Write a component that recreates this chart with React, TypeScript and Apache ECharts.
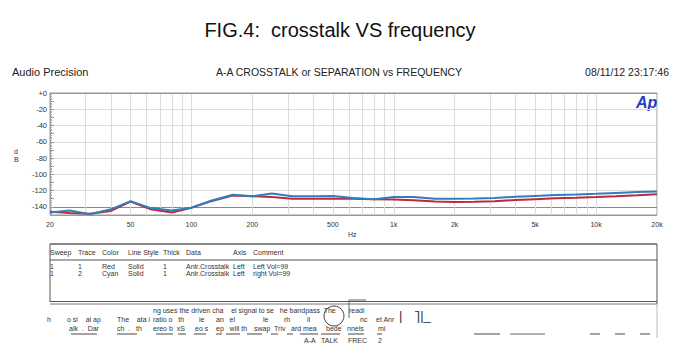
import React, { useEffect, useRef } from "react";
import * as echarts from "echarts";

const freqs = [20, 25, 31.5, 40, 50, 63, 80, 100, 125, 160, 200, 250, 315, 400, 500, 630, 800, 1000, 1250, 1600, 2000, 2500, 3150, 4000, 5000, 6300, 8000, 10000, 12500, 16000, 20000];
const redValues = [-146, -147.5, -148.5, -145, -133.5, -143, -147, -141, -133, -126, -127, -128, -130, -130, -130, -130, -130.5, -131, -132, -133.5, -134, -133.8, -133, -131.5, -130.5, -129.5, -128.8, -128, -127, -125.8, -124.5];
const cyanValues = [-147, -144.5, -149, -143, -133, -141.5, -144.5, -141, -132.5, -125, -127, -123.5, -127, -127, -126.5, -129, -130.5, -128, -128, -130, -130, -129.8, -129, -127.5, -126.5, -125.5, -124.8, -124, -122.8, -121.8, -121];
const xTickLabels = [20, 50, 100, 200, 500, 1000, 2000, 5000, 10000, 20000];
const xGridFreqs = [20, 30, 40, 50, 60, 70, 80, 90, 100, 200, 300, 400, 500, 600, 700, 800, 900, 1000, 2000, 3000, 4000, 5000, 6000, 7000, 8000, 9000, 10000, 20000];
const tableHeaders = ["Sweep", "Trace", "Color", "Line Style", "Thick", "Data", "Axis", "Comment"];
const tableRows = [
  ["1", "1", "Red", "Solid", "1", "Anlr.Crosstalk", "Left", "Left Vol=99"],
  ["1", "2", "Cyan", "Solid", "1", "Anlr.Crosstalk", "Left", "right Vol=99"],
];
const noteFragments: [string, number, number][] = [
  ["h", 47, 320], ["o si    al ap", 67, 320], ["alk  .  Dar", 69, 329],
  ["The    ata i", 117, 320], ["ch  .   th", 117, 329],
  ["ng uses the driven cha    el signal to se   he bandpass  The", 153, 311],
  ["readi", 349, 311],
  ["ratio o   th", 153, 320], ["ereo b  xS", 153, 329], ["ie", 199, 320], ["eo s", 195, 329],
  ["an   el", 216, 320], ["ep   will th", 216, 329], ["le", 263, 320], ["swap  Triv", 254, 329],
  ["rh", 284, 320], ["il", 307, 320], ["ard mea", 291, 329], ["bede", 326, 329],
  ["nc", 360, 320], ["nnels", 347, 329], ["et Anr", 376, 320], ["mi", 378, 329],
  ["A-A   TALK", 304, 341], ["FREC", 348, 341], ["2", 378, 341],
];
const noteDashes: [number, number][] = [
  [71, 97], [117, 137], [156, 173], [178, 186], [194, 206], [216, 222], [226, 240],
  [247, 262], [271, 278], [287, 293], [300, 318], [321, 340], [348, 364], [377, 382],
  [474, 500], [510, 545], [590, 600], [615, 625], [640, 650],
];

const colCols = [50, 78, 102, 128, 163, 186, 233, 253];

export default function App() {
  const ref = useRef<HTMLDivElement>(null);
  useEffect(() => {
    if (!ref.current) return;
    const chart = echarts.init(ref.current, null, { renderer: "svg" });
    const toXY = (vals: number[]) => freqs.map((f, i) => [Math.log10(f), vals[i]]);
    const yTicks: number[] = [];
    for (let v = -150; v <= 0; v += 10) yTicks.push(v);
    const splitColors = yTicks.map((v) =>
      v === -150 || v === 0 ? "#999" : v === -140 ? "#8a8a8a" : v % 20 === 0 ? "#dcdcdc" : "rgba(0,0,0,0)"
    );
    const fmtF = (v: number) => {
      const f = Math.round(Math.pow(10, v));
      return f >= 1000 ? f / 1000 + "k" : String(f);
    };
    const font = "Liberation Sans, Arial, sans-serif";
    const graphics: any[] = [
      { type: "text", left: "center", top: 20, style: { text: "FIG.4:  crosstalk VS frequency", font: `20px ${font}`, fill: "#111" } },
      { type: "text", x: 12, y: 66, style: { text: "Audio Precision", font: `11px ${font}`, fill: "#222" } },
      { type: "text", x: 339, y: 66, style: { text: "A-A CROSSTALK or SEPARATION vs FREQUENCY", font: `10.5px ${font}`, fill: "#222", textAlign: "center" } },
      { type: "text", x: 669, y: 66, style: { text: "08/11/12 23:17:46", font: `10.5px ${font}`, fill: "#222", textAlign: "right" } },
      { type: "text", x: 636, y: 94, style: { text: "Ap", font: `italic bold 16px ${font}`, fill: "#1f3fc4" } },
      { type: "text", x: 14, y: 148, style: { text: "d", font: `7px ${font}`, fill: "#333" } },
      { type: "text", x: 14, y: 156, style: { text: "B", font: `7px ${font}`, fill: "#333" } },
      { type: "text", x: 348, y: 231, style: { text: "Hz", font: `7px ${font}`, fill: "#333" } },
      { type: "line", shape: { x1: 50, y1: 244, x2: 657, y2: 244 }, style: { stroke: "#888", lineWidth: 2 } },
      { type: "line", shape: { x1: 50, y1: 260, x2: 657, y2: 260 }, style: { stroke: "#555", lineWidth: 1 } },
      { type: "line", shape: { x1: 50, y1: 301.5, x2: 657, y2: 301.5 }, style: { stroke: "#555", lineWidth: 1 } },
      { type: "line", shape: { x1: 50, y1: 304, x2: 657, y2: 304 }, style: { stroke: "#777", lineWidth: 1 } },
      { type: "line", shape: { x1: 50, y1: 244, x2: 50, y2: 302 }, style: { stroke: "#555", lineWidth: 1 } },
      { type: "line", shape: { x1: 657, y1: 244, x2: 657, y2: 304 }, style: { stroke: "#555", lineWidth: 1 } },
      { type: "line", shape: { x1: 657, y1: 304, x2: 657, y2: 338 }, style: { stroke: "#bbb", lineWidth: 1 } },
      { type: "line", shape: { x1: 349, y1: 300, x2: 366, y2: 300 }, style: { stroke: "#666", lineWidth: 1 } },
      { type: "line", shape: { x1: 349, y1: 300, x2: 349, y2: 318 }, style: { stroke: "#666", lineWidth: 1 } },
      { type: "circle", shape: { cx: 334, cy: 316, r: 10 }, style: { fill: "none", stroke: "#444", lineWidth: 1 } },
      { type: "text", x: 399, y: 309, style: { text: "|    ̄||_", font: `13px ${font}`, fill: "#333" } },
    ];
    tableHeaders.forEach((h, i) =>
      graphics.push({ type: "text", x: colCols[i], y: 249, style: { text: h, font: `7px ${font}`, fill: "#333" } })
    );
    tableRows.forEach((row, r) =>
      row.forEach((c, i) =>
        graphics.push({ type: "text", x: colCols[i], y: 263 + r * 7, style: { text: c, font: `7px ${font}`, fill: "#333" } })
      )
    );
    noteFragments.forEach(([t, x, y]) =>
      graphics.push({ type: "text", x, y: y - 4, style: { text: t, font: `7px ${font}`, fill: "#333" } })
    );
    noteDashes.forEach(([a, b]) =>
      graphics.push({ type: "line", shape: { x1: a, y1: 334, x2: b, y2: 334 }, style: { stroke: "#666", lineWidth: 1.2 } })
    );

    chart.setOption({
      animation: false,
      backgroundColor: "#fff",
      grid: { left: 50, right: 23, top: 93, bottom: 145, show: true, borderColor: "#999", borderWidth: 1 },
      xAxis: {
        type: "value",
        min: Math.log10(20),
        max: Math.log10(20000),
        axisLine: { show: true, lineStyle: { color: "#999" } },
        axisTick: { show: false, customValues: xGridFreqs.map((f) => Math.log10(f)) },
        axisLabel: {
          customValues: xTickLabels.map((f) => Math.log10(f)),
          formatter: fmtF,
          fontSize: 7,
          color: "#333",
          margin: 6,
          fontFamily: font,
        },
        splitLine: { show: true, lineStyle: { color: "#dcdcdc", width: 1 } },
      },
      yAxis: {
        type: "value",
        min: -150,
        max: 0,
        interval: 10,
        axisLine: { show: true, lineStyle: { color: "#999" } },
        axisTick: { show: true, inside: true, length: 4, lineStyle: { color: "#999" } },
        minorTick: { show: true, splitNumber: 5, length: 2, lineStyle: { color: "#aaa" } },
        axisLabel: {
          formatter: (v: number) => (v === 0 ? "+0" : v % 20 === 0 ? String(v) : ""),
          fontSize: 7.5,
          color: "#333",
          margin: 3,
          fontFamily: font,
        },
        splitLine: { show: true, lineStyle: { color: splitColors, width: 1 } },
      },
      series: [
        {
          name: "Red",
          type: "line",
          data: toXY(redValues),
          showSymbol: false,
          lineStyle: { color: "#c0283c", width: 2 },
          z: 2,
        },
        {
          name: "Cyan",
          type: "line",
          data: toXY(cyanValues),
          showSymbol: false,
          lineStyle: { color: "#2c80bd", width: 2 },
          z: 3,
        },
      ],
      graphic: graphics,
    });
    return () => chart.dispose();
  }, []);
  return <div ref={ref} style={{ width: 680, height: 360, position: "absolute", left: 0, top: 0 }} />;
}
